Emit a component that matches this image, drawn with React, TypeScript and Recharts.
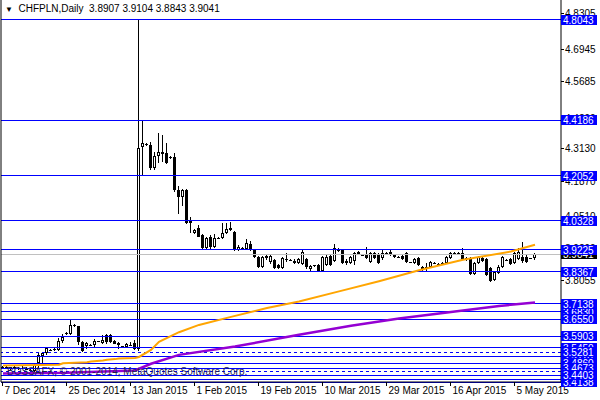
import React from 'react';
import { ComposedChart, Bar, Line, XAxis, YAxis, ReferenceLine } from 'recharts';

// ---- data ----
const opens = [
  3.470, 3.472, 3.467, 3.470, 3.466, 3.469, 3.465, 3.461, 3.456, 3.487,
  3.512, 3.525, 3.537, 3.539, 3.535, 3.570, 3.600, 3.598, 3.633, 3.627,
  3.569, 3.552, 3.556, 3.555, 3.570, 3.563, 3.595, 3.594, 3.573, 3.563,
  3.551, 3.550, 3.556, 3.563, 3.540, 4.315, 4.326, 4.324, 4.235, 4.280,
  4.290, 4.293, 4.277, 4.277, 4.152, 4.124, 4.152, 4.036, 3.986, 4.004,
  3.979, 3.928, 3.970, 3.934, 3.967, 3.966, 3.988, 3.999, 3.991, 3.922,
  3.928, 3.925, 3.943, 3.919, 3.895, 3.857, 3.898, 3.873, 3.883, 3.862,
  3.851, 3.887, 3.883, 3.880, 3.871, 3.868, 3.886, 3.848, 3.861, 3.864,
  3.839, 3.864, 3.898, 3.880, 3.925, 3.919, 3.870, 3.872, 3.880, 3.904,
  3.903, 3.905, 3.876, 3.908, 3.905, 3.889, 3.911, 3.915, 3.902, 3.894,
  3.898, 3.908, 3.873, 3.870, 3.889, 3.857, 3.846, 3.857, 3.870, 3.868,
  3.871, 3.872, 3.889, 3.908, 3.911, 3.911, 3.886, 3.886, 3.829, 3.870,
  3.889, 3.886, 3.851, 3.804, 3.834, 3.857, 3.883, 3.886, 3.870, 3.886,
  3.895, 3.895, 3.889, 3.8907,
];
const highs = [
  3.476, 3.478, 3.473, 3.475, 3.472, 3.476, 3.470, 3.466, 3.483, 3.525,
  3.530, 3.550, 3.541, 3.543, 3.582, 3.599, 3.606, 3.655, 3.635, 3.630,
  3.572, 3.567, 3.559, 3.580, 3.572, 3.595, 3.600, 3.598, 3.576, 3.566,
  3.553, 3.565, 3.566, 3.575, 4.8043, 4.4186, 4.332, 4.337, 4.299, 4.369,
  4.362, 4.331, 4.282, 4.293, 4.167, 4.156, 4.155, 4.049, 4.000, 4.017,
  3.982, 3.972, 3.977, 3.983, 3.970, 4.024, 4.024, 4.030, 3.993, 3.940,
  3.931, 3.962, 3.957, 3.921, 3.897, 3.899, 3.905, 3.901, 3.888, 3.866,
  3.893, 3.911, 3.886, 3.885, 3.890, 3.919, 3.890, 3.865, 3.865, 3.866,
  3.899, 3.907, 3.903, 3.943, 3.928, 3.921, 3.885, 3.899, 3.912, 3.916,
  3.906, 3.934, 3.912, 3.912, 3.910, 3.920, 3.914, 3.919, 3.906, 3.897,
  3.902, 3.912, 3.876, 3.890, 3.893, 3.860, 3.870, 3.880, 3.873, 3.872,
  3.876, 3.899, 3.912, 3.913, 3.914, 3.928, 3.895, 3.893, 3.876, 3.899,
  3.893, 3.889, 3.855, 3.842, 3.862, 3.899, 3.886, 3.890, 3.912, 3.928,
  3.953, 3.905, 3.892, 3.9104,
];
const lows = [
  3.464, 3.466, 3.461, 3.463, 3.459, 3.464, 3.458, 3.452, 3.452, 3.467,
  3.487, 3.518, 3.534, 3.534, 3.531, 3.564, 3.594, 3.596, 3.625, 3.557,
  3.529, 3.541, 3.553, 3.549, 3.566, 3.561, 3.560, 3.563, 3.558, 3.540,
  3.548, 3.548, 3.552, 3.536, 3.532, 4.2052, 4.322, 4.229, 4.229, 4.254,
  4.258, 4.250, 4.270, 4.145, 4.060, 4.088, 4.022, 3.985, 3.984, 3.970,
  3.921, 3.921, 3.925, 3.930, 3.965, 3.963, 3.983, 3.995, 3.918, 3.918,
  3.921, 3.920, 3.916, 3.890, 3.851, 3.851, 3.883, 3.868, 3.848, 3.847,
  3.847, 3.876, 3.879, 3.867, 3.866, 3.864, 3.849, 3.838, 3.857, 3.835,
  3.835, 3.860, 3.860, 3.876, 3.912, 3.866, 3.864, 3.868, 3.864, 3.900,
  3.898, 3.886, 3.872, 3.885, 3.866, 3.882, 3.907, 3.896, 3.890, 3.889,
  3.882, 3.872, 3.869, 3.866, 3.860, 3.840, 3.836, 3.852, 3.866, 3.863,
  3.867, 3.868, 3.885, 3.903, 3.908, 3.882, 3.880, 3.825, 3.825, 3.866,
  3.876, 3.822, 3.796, 3.800, 3.830, 3.853, 3.879, 3.864, 3.866, 3.882,
  3.870, 3.869, 3.886, 3.8843,
];
const closes = [
  3.472, 3.467, 3.470, 3.466, 3.469, 3.465, 3.461, 3.456, 3.478, 3.518,
  3.527, 3.544, 3.538, 3.538, 3.572, 3.588, 3.601, 3.633, 3.627, 3.569,
  3.531, 3.565, 3.557, 3.573, 3.569, 3.576, 3.566, 3.567, 3.560, 3.556,
  3.550, 3.559, 3.557, 3.540, 4.313, 4.333, 4.328, 4.235, 4.280, 4.299,
  4.298, 4.256, 4.276, 4.152, 4.124, 4.152, 4.026, 4.026, 3.998, 3.972,
  3.928, 3.966, 3.932, 3.968, 3.968, 3.988, 4.002, 4.005, 3.922, 3.934,
  3.927, 3.947, 3.920, 3.893, 3.857, 3.893, 3.890, 3.897, 3.851, 3.851,
  3.889, 3.886, 3.882, 3.872, 3.886, 3.915, 3.855, 3.860, 3.862, 3.839,
  3.895, 3.895, 3.864, 3.928, 3.916, 3.871, 3.880, 3.895, 3.908, 3.912,
  3.902, 3.889, 3.908, 3.889, 3.871, 3.908, 3.910, 3.900, 3.893, 3.893,
  3.886, 3.876, 3.872, 3.886, 3.864, 3.845, 3.857, 3.876, 3.869, 3.867,
  3.872, 3.895, 3.908, 3.909, 3.910, 3.886, 3.890, 3.829, 3.872, 3.895,
  3.880, 3.826, 3.800, 3.838, 3.857, 3.895, 3.882, 3.868, 3.908, 3.915,
  3.880, 3.873, 3.888, 3.9041,
];

// moving averages, read at sample bars
const orangeIdx = [0, 14, 15, 21, 22, 25, 26, 28, 29, 33, 34, 37, 39, 44, 49, 57, 66, 74, 84, 94, 104, 115, 127, 133];
const orangeVal = [3.477, 3.480, 3.486, 3.490, 3.4925, 3.496, 3.499, 3.5017, 3.504, 3.506, 3.510, 3.537, 3.568, 3.605, 3.633, 3.664, 3.698, 3.723, 3.762, 3.801, 3.843, 3.883, 3.915, 3.941];
const purpleIdx = [0, 16, 33, 37, 44, 58, 74, 87, 99, 112, 124, 133];
const purpleVal = [3.446, 3.449, 3.458, 3.484, 3.518, 3.550, 3.595, 3.630, 3.658, 3.683, 3.706, 3.719];

// time axis
const timeTickIdx = [0, 16, 32, 48, 64, 80, 96, 112, 128];
const timeTickLabels = ['7 Dec 2014', '25 Dec 2014', '13 Jan 2015', '1 Feb 2015', '19 Feb 2015', '10 Mar 2015', '29 Mar 2015', '16 Apr 2015', '5 May 2015'];

// horizontal levels
const solidLevels = [4.8043, 4.4186, 4.2052, 4.0328, 3.9225, 3.8367, 3.7138, 3.6830, 3.6550, 3.5903, 3.5450, 3.5110, 3.4860, 3.4673, 3.4403, 3.4250, 3.4138];
const dashedLevels = [3.5281, 3.4540];
// price scale labels
const plainTicks = [4.8305, 4.6945, 4.5685, 4.4290, 4.3130, 4.1870, 4.0510, 3.9290, 3.8055];
const lastPrice = 3.9041;
const boxOrder = [3.6830, 3.5110, 3.4860, 3.4540, 3.4250, 3.5450, 3.4673, 3.4138,
  4.8043, 4.4186, 4.2052, 4.0328, 3.9225, 3.8367, 3.7138, 3.6550, 3.5903, 3.5281, 3.4403];

const TOTAL_SLOTS = 140;
const Y_DOMAIN: [number, number] = [3.4138, 4.8811];
const FONT = 'Liberation Sans, Arial, sans-serif';

const data = Array.from({ length: TOTAL_SLOTS }, (_, i) => {
  const row: any = { i };
  if (i < opens.length) {
    row.o = opens[i]; row.h = highs[i]; row.l = lows[i]; row.c = closes[i];
    row.range = [lows[i], highs[i]];
  }
  const oi = orangeIdx.indexOf(i);
  if (oi >= 0) row.ma1 = orangeVal[oi];
  const pi = purpleIdx.indexOf(i);
  if (pi >= 0) row.ma2 = purpleVal[pi];
  return row;
});

const Candle = (props: any) => {
  const { x, y, width, height, payload } = props;
  if (!payload || payload.o == null) return null;
  const { o, h, l, c } = payload;
  const range = h - l;
  const k = range > 0 ? height / range : 0;
  const cx = Math.round(x + width / 2);
  const yOf = (p: number) => y + (h - p) * k;
  const wx = cx - 0.5;
  const yTop = Math.round(y);
  const yBot = Math.round(y + height);
  const top = Math.round(yOf(Math.max(o, c)));
  const bot = Math.round(yOf(Math.min(o, c)));
  let body: React.ReactNode;
  if (bot - top < 1) {
    body = <line x1={cx - 2} x2={cx + 1} y1={top + 0.5} y2={top + 0.5} stroke="#000" strokeWidth={1} />;
  } else if (c > o) {
    if (bot - top < 3) {
      body = <rect x={cx - 2} y={top} width={3} height={bot - top} fill="#000" />;
    } else {
      body = <rect x={cx - 1.5} y={top + 0.5} width={2} height={bot - top - 1} fill="#fff" stroke="#000" strokeWidth={1} />;
    }
  } else {
    body = <rect x={cx - 2} y={top} width={3} height={bot - top} fill="#000" />;
  }
  return (
    <g>
      <line x1={wx} x2={wx} y1={yTop} y2={yBot} stroke="#000" strokeWidth={1} />
      {body}
    </g>
  );
};

const PriceTick = (props: any) => {
  const { x, y, payload } = props;
  const v: number = payload.value;
  const yy = Math.round(y);
  const txt = v.toFixed(4);
  if (v === lastPrice) {
    return (
      <g>
        <rect x={x} y={yy - 5} width={36} height={10} fill="#000" />
        <text x={x + 2} y={yy + 4} fontSize={10} fontFamily={FONT} fill="#fff">{txt}</text>
      </g>
    );
  }
  if (boxOrder.indexOf(v) >= 0) {
    return (
      <g>
        <rect x={x} y={yy - 5} width={36} height={10} fill="#0000FF" />
        <text x={x + 2} y={yy + 4} fontSize={10} fontFamily={FONT} fill="#fff">{txt}</text>
      </g>
    );
  }
  return (
    <g>
      <line x1={x} x2={x + 3} y1={yy + 0.5} y2={yy + 0.5} stroke="#000" strokeWidth={1} />
      <text x={x + 4} y={yy + 4} fontSize={10} fontFamily={FONT} fill="#000">{txt}</text>
    </g>
  );
};

const TimeTick = (props: any) => {
  const { x, y, payload } = props;
  const k = timeTickIdx.indexOf(payload.value);
  const xx = Math.round(x) - 0.5;
  return (
    <g>
      <line x1={xx} x2={xx} y1={y} y2={y + 4} stroke="#000" strokeWidth={1} />
      <text x={xx + 2} y={y + 12} fontSize={10} fontFamily={FONT} fill="#000">{k >= 0 ? timeTickLabels[k] : ''}</text>
    </g>
  );
};

export default function App() {
  return (
    <div style={{ position: 'absolute', left: 0, top: 0, width: 600, height: 400, background: '#fff' }}>
      <ComposedChart
        width={600}
        height={400}
        data={data}
        margin={{ top: 0, right: 0, bottom: 0, left: 0 }}
        barCategoryGap={0}
        barGap={0}
      >
        <XAxis
          dataKey="i"
          type="category"
          ticks={timeTickIdx}
          interval={0}
          tick={<TimeTick />}
          tickLine={false}
          tickSize={0}
          tickMargin={0}
          height={18}
          axisLine={{ stroke: '#000' }}
        />
        <YAxis
          yAxisId="p"
          orientation="right"
          type="number"
          domain={Y_DOMAIN}
          allowDataOverflow
          ticks={[...plainTicks, lastPrice, ...boxOrder]}
          interval={0}
          tick={<PriceTick />}
          tickLine={false}
          tickSize={0}
          tickMargin={0}
          width={39}
          axisLine={{ stroke: '#000' }}
        />
        <YAxis
          yAxisId="left"
          orientation="left"
          width={1}
          tick={false}
          tickLine={false}
          axisLine={{ stroke: '#000' }}
        />
        <ReferenceLine yAxisId="p" y={lastPrice} stroke="#C0C0C0" strokeWidth={1} shapeRendering="crispEdges" />
        {solidLevels.map((v) => (
          <ReferenceLine key={'s' + v} yAxisId="p" y={v} stroke="#0000FF" strokeWidth={1} shapeRendering="crispEdges" />
        ))}
        {dashedLevels.map((v) => (
          <ReferenceLine key={'d' + v} yAxisId="p" y={v} stroke="#0000FF" strokeWidth={1} strokeDasharray="3 3" shapeRendering="crispEdges" />
        ))}
        <Bar yAxisId="p" dataKey="range" shape={<Candle />} isAnimationActive={false} />
        <Line yAxisId="p" dataKey="ma2" stroke="#9400D3" strokeWidth={2.5} dot={false} connectNulls isAnimationActive={false} />
        <Line yAxisId="p" dataKey="ma1" stroke="#FFA500" strokeWidth={2} dot={false} connectNulls isAnimationActive={false} />
      </ComposedChart>
      <div style={{ position: 'absolute', left: 5, top: 3, fontFamily: FONT, fontSize: 10, color: '#000', whiteSpace: 'pre', lineHeight: '12px' }}>
        <span style={{ fontSize: 8 }}>▼</span>{'  CHFPLN,Daily  3.8907 3.9104 3.8843 3.9041'}
      </div>
      <div style={{ position: 'absolute', left: 7, top: 366, fontFamily: FONT, fontSize: 10, color: '#1e1e50', whiteSpace: 'pre', lineHeight: '12px' }}>
        {'BOSSAFX, © 2001-2014, MetaQuotes Software Corp.'}
      </div>
    </div>
  );
}
